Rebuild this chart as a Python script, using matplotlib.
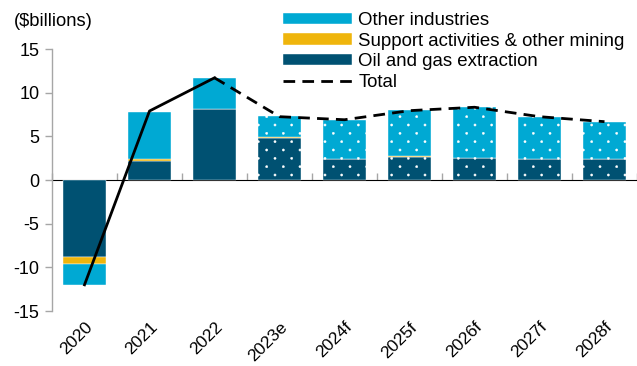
import matplotlib.pyplot as plt
import matplotlib.hatch as mhatch
from matplotlib.path import Path
import numpy as np

plt.rcParams["font.family"] = ["Liberation Sans", "DejaVu Sans"]
plt.rcParams["axes.unicode_minus"] = False
plt.rcParams["hatch.color"] = "white"
plt.rcParams["hatch.linewidth"] = 0.3

# ── Data ($billions) ───────────────────────────────────────────────────────
YEARS   = ["2020", "2021", "2022", "2023e", "2024f", "2025f", "2026f", "2027f", "2028f"]
OIL_GAS = [-8.85, 2.15, 8.10, 4.77, 2.37, 2.65, 2.52, 2.40, 2.40]
SUPPORT = [-0.75, 0.25, 0.08, 0.15, 0.06, 0.12, 0.02, 0.02, 0.02]
OTHER   = [-2.40, 5.42, 3.50, 2.41, 4.44, 5.25, 5.82, 4.83, 4.22]
TOTAL   = [-12.0, 7.9, 11.7, 7.25, 6.9, 7.94, 8.33, 7.25, 6.68]
FIRST_FORECAST = 3   # 2023e onward drawn with dotted fill

C_OTHER   = "#00a9d3"
C_SUPPORT = "#efb50c"
C_OIL     = "#005172"
C_AXIS    = "#a6a6a6"


# Sparse staggered dot fill for estimate/forecast bars: dots every 1/n
# across, rows every 1/(2n) with alternate rows shifted half a step.
class StaggeredDots(mhatch.HatchPatternBase):
    def __init__(self, hatch, density):
        n = hatch.count(".") * density
        self.num_vertices = 0
        if n == 0:
            return
        centers = []
        for r in range(2 * n + 1):
            if r % 2 == 0:
                xs = np.linspace(0, 1, n + 1)
            else:
                xs = np.linspace(0.5 / n, 1 - 0.5 / n, n)
            centers += [(cx, r / (2 * n)) for cx in xs]
        self.centers = np.array(centers)
        circle = Path.unit_circle()
        self.shape_vertices = circle.vertices * 0.011
        self.shape_codes = circle.codes
        self.num_vertices = len(self.centers) * len(self.shape_vertices)

    def set_vertices_and_codes(self, vertices, codes):
        np.concatenate([self.shape_vertices + c for c in self.centers], out=vertices)
        np.concatenate([self.shape_codes] * len(self.centers), out=codes)


mhatch._hatch_types = [StaggeredDots if t is mhatch.SmallFilledCircles else t
                       for t in mhatch._hatch_types]

x = np.arange(len(YEARS))
oil = np.array(OIL_GAS)
sup = np.array(SUPPORT)
oth = np.array(OTHER)

fig = plt.figure(figsize=(6.37, 3.66), dpi=100)
ax = fig.add_axes([52 / 637, 1 - 311 / 366, 1 - 52 / 637, (311 - 49) / 366])

W = 0.66
hatches = [None if i < FIRST_FORECAST else "." for i in range(len(YEARS))]

def stack(values, bottom, color, label):
    bars = ax.bar(x, values, W, bottom=bottom, color=color, label=label,
                  edgecolor="white", linewidth=0.3, zorder=2)
    for b, h in zip(bars, hatches):
        if h:
            b.set_hatch(h)
    return bars

stack(oil, 0, C_OIL, "Oil and gas extraction")
stack(sup, oil, C_SUPPORT, "Support activities & other mining")
stack(oth, oil + sup, C_OTHER, "Other industries")

# Total: actuals solid, estimate/forecast dashed
ax.plot(x[:3], TOTAL[:3], color="black", lw=2.0, zorder=3)
ax.plot(x[2:], TOTAL[2:], color="black", lw=2.0, ls=(0, (4.2, 2.6)),
        zorder=3, label="Total")

# ── Axes ───────────────────────────────────────────────────────────────────
ax.set_xlim(-0.5, len(YEARS) - 0.5)
ax.set_ylim(-15, 15)
ax.set_yticks([-15, -10, -5, 0, 5, 10, 15])
ax.tick_params(axis="y", length=5, width=1, color=C_AXIS, labelsize=13,
               pad=4)
ax.set_xticks(x)
ax.set_xticklabels(YEARS, rotation=45, ha="right", rotation_mode="anchor",
                   fontsize=12.5)
ax.tick_params(axis="x", length=0, pad=6)

for s in ["top", "right", "bottom"]:
    ax.spines[s].set_visible(False)
ax.spines["left"].set_color(C_AXIS)
ax.spines["left"].set_linewidth(1)

# zero line with category separator ticks
zero = ax.secondary_xaxis(0.5)
zero.set_xticks(np.arange(len(YEARS) + 1) - 0.5)
zero.set_xticklabels([])
zero.tick_params(length=5, width=1, color=C_AXIS)
zero.spines["bottom"].set_color(C_AXIS)
zero.spines["bottom"].set_linewidth(1)

fig.text(14 / 637, 1 - 21 / 366, "($billions)", fontsize=13.2, va="center")

# legend order: other, support, oil, total
h, l = ax.get_legend_handles_labels()
order = [l.index(n) for n in ["Other industries", "Support activities & other mining",
                              "Oil and gas extraction", "Total"]]
leg = ax.legend([h[i] for i in order], [l[i] for i in order],
                loc="upper left", bbox_to_anchor=(281 / 637, 1 - 10 / 366),
                bbox_transform=fig.transFigure, frameon=False, fontsize=13.4,
                handlelength=3.7, handleheight=0.55, handletextpad=0.35,
                labelspacing=0.2, borderaxespad=0, borderpad=0.1)
for p in leg.get_patches():
    p.set_hatch(None)

fig.savefig("out.png", dpi=100)
